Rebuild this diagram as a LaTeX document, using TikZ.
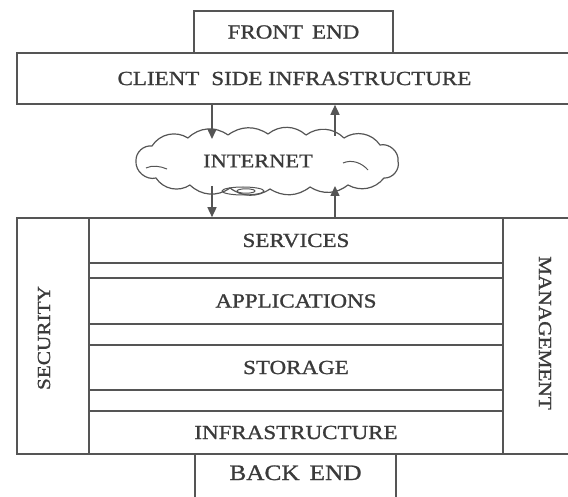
\documentclass[tikz,border=0pt]{standalone}
\usepackage{fontspec}
\setmainfont[FakeStretch=1.15,FakeBold=1.1]{Liberation Serif}
\usetikzlibrary{arrows.meta}
\definecolor{ln}{HTML}{555555}
\definecolor{tx}{HTML}{3A3A3A}
\tikzset{
  box/.style={draw=ln, line width=1.6pt, inner sep=0pt, text=tx, font=\fontsize{20}{24}\selectfont},
  lbl/.style={inner sep=0pt, text=tx, font=\fontsize{20}{24}\selectfont},
  vlbl/.style={inner sep=0pt, text=tx, font=\fontsize{18.5}{20}\selectfont},
  arr/.style={draw=ln, line width=1.5pt, -{Triangle[length=10pt,width=9pt]}},
  thin/.style={draw=ln, line width=1pt},
  cloudline/.style={draw=ln, line width=1.2pt, line join=round}
}
\begin{document}
\begin{tikzpicture}[x=1pt,y=-1pt]
\useasboundingbox (0,0) rectangle (568,497);
% top boxes
\node[box, minimum width=199pt, minimum height=42pt] (front) at (293.5,32) {FRONT\hspace{0.45em}END};
\node[box, minimum width=555pt, minimum height=51pt] (client) at (294.5,78.5) {CLIENT\hspace{0.6em}SIDE INFRASTRUCTURE};
% cloud
\draw[cloudline] (136,161) to[bend left=50] (152,146) to[bend left=45] (188,138)
  to[bend left=40] (228,135) to[bend left=35] (268,134) to[bend left=40] (306,135)
  to[bend left=40] (344,138) to[bend left=45] (380,145) to[bend left=55] (398,161)
  to[bend left=55] (384,178) to[bend left=40] (348,185) to[bend left=35] (310,187)
  to[bend left=35] (270,189) to[bend left=35] (230,188) to[bend left=40] (190,185)
  to[bend left=45] (156,178) to[bend left=55] (136,161) -- cycle;
\node[lbl, font=\fontsize{19.5}{22}\selectfont] (internet) at (258,161) {INTERNET};
\draw[thin] (146,168) .. controls (152,165) and (160,166) .. (167,169);
\draw[thin] (343,163) .. controls (352,159) and (362,163) .. (368,170);
\draw[thin] (243,191) ellipse (21pt and 4pt);
\draw[thin] (246,191) ellipse (9pt and 2.2pt);
% main block
\node[box, minimum width=72pt, minimum height=236pt] (security) at (53,336) {};
\node[vlbl, rotate=90] (securitytxt) at (44,338) {SECURITY};
\node[box, minimum width=69pt, minimum height=236pt] (management) at (537.5,336) {};
\node[vlbl, rotate=-90] (managementtxt) at (545,333) {MANAGEMENT};
\node[box, minimum width=414pt, minimum height=45pt] (services) at (296,240.5) {SERVICES};
\node[box, minimum width=414pt, minimum height=15pt] (strip1) at (296,270.5) {};
\node[box, minimum width=414pt, minimum height=46pt] (applications) at (296,301) {APPLICATIONS};
\node[box, minimum width=414pt, minimum height=21pt] (strip2) at (296,334.5) {};
\node[box, minimum width=414pt, minimum height=45pt] (storage) at (296,367.5) {STORAGE};
\node[box, minimum width=414pt, minimum height=21pt] (strip3) at (296,400.5) {};
\node[box, minimum width=414pt, minimum height=43pt] (infra) at (296,432.5) {INFRASTRUCTURE};
% back end
\node[box, minimum width=201pt, minimum height=52pt, text height=15pt, text depth=15pt,
      font=\fontsize{22}{26}\selectfont] (backend) at (295.5,480) {BACK\hspace{0.45em}END};
% arrows
\coordinate (d1) at (212,139);
\coordinate (u1) at (335,136);
\coordinate (d2) at (212,186);
\coordinate (u2) at (335,186);
\draw[arr] (client.south -| d1) -- (d1);
\draw[arr] (u1) -- (client.south -| u1);
\draw[arr] (d2) -- (services.north -| d2);
\draw[arr] (services.north -| u2) -- (u2);
\end{tikzpicture}
\end{document}
